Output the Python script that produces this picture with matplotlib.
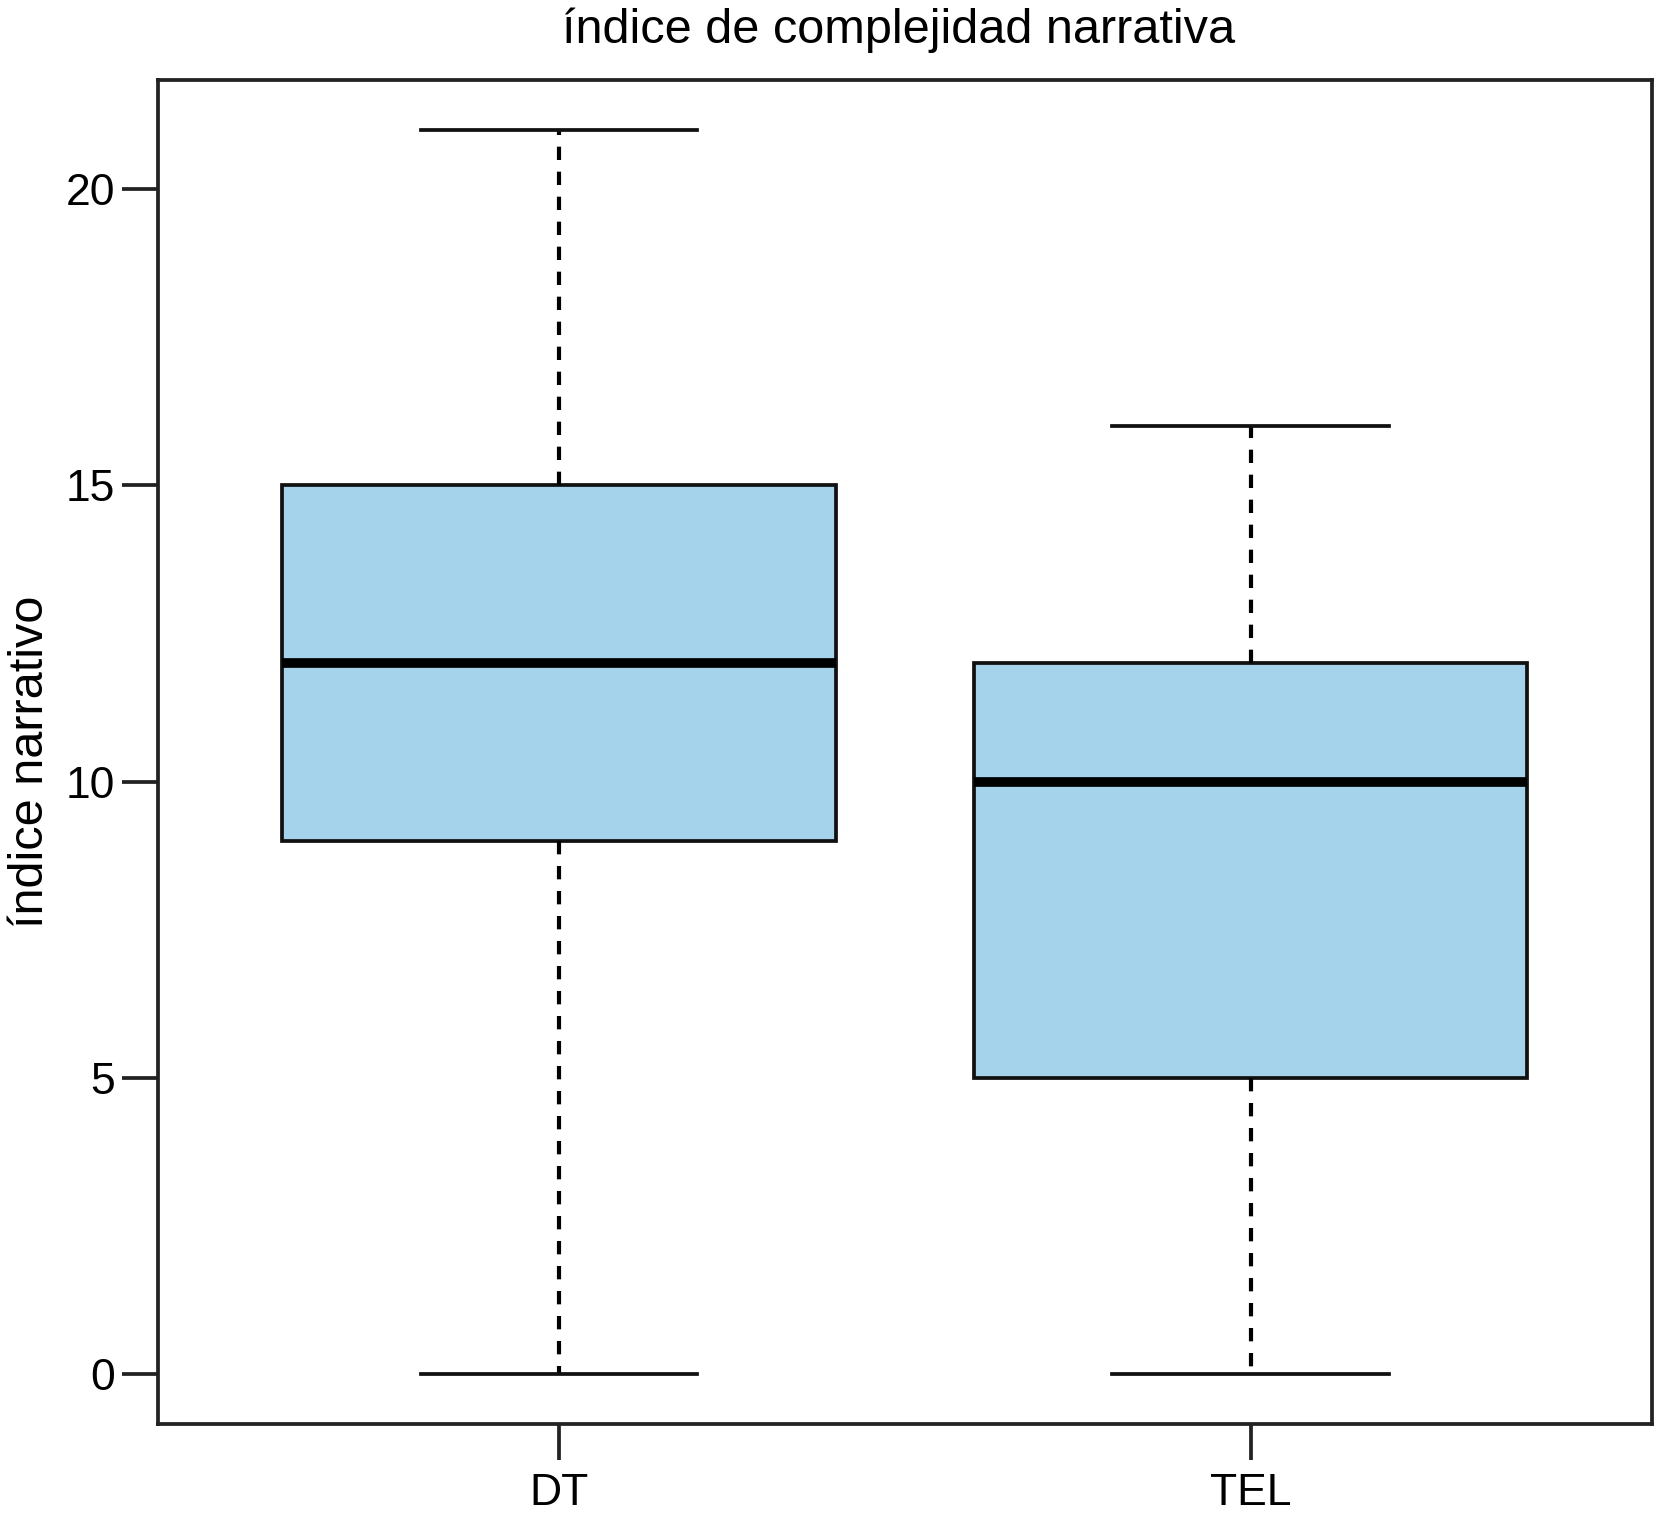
import matplotlib
matplotlib.use('Agg')
from matplotlib import pyplot as plt

# Datos
grupos = ['DT', 'TEL']
minimos = [0, 0]
q1 = [9, 5]
medianas = [12, 10]
q3 = [15, 12]
maximos = [21, 16]

plt.rcParams['font.family'] = ['Liberation Sans', 'DejaVu Sans']

fig = plt.figure(figsize=(16.56, 15.13), dpi=100)
ax = fig.add_axes([158 / 1656, 89 / 1513, 1494 / 1656, 1344 / 1513])

stats = []
for i in range(len(grupos)):
    stats.append({'label': grupos[i], 'whislo': minimos[i], 'q1': q1[i],
                  'med': medianas[i], 'q3': q3[i], 'whishi': maximos[i]})

ax.bxp(stats, positions=[1, 2], widths=0.8, capwidths=0.4,
       showfliers=False, patch_artist=True,
       boxprops=dict(facecolor='#a6d3ec', edgecolor='#111111', linewidth=2.7),
       medianprops=dict(color='black', linewidth=7, solid_capstyle='butt'),
       whiskerprops=dict(color='black', linewidth=3, linestyle=(0, (3.2, 2.8))),
       capprops=dict(color='#111111', linewidth=2.7))

ax.set_xlim(0.42, 2.58)
ax.set_ylim(-0.84, 21.84)
ax.set_yticks([0, 5, 10, 15, 20])
ax.set_xticks([1, 2])
ax.set_xticklabels(grupos)

for s in ax.spines.values():
    s.set_linewidth(2.7)
    s.set_color('#222222')

ax.tick_params(axis='both', length=26, width=2.7, color='#222222', labelsize=32)
ax.tick_params(axis='y', pad=5)
ax.tick_params(axis='x', pad=9)

# etiqueta del eje y y titulo
fig.text(31 / 1656, 1 - 762 / 1513, 'índice narrativo',
         fontsize=35, rotation=90, ha='center', va='center')
fig.text(0.5425, 1 - 30 / 1513, 'índice de complejidad narrativa',
         fontsize=35, ha='center', va='center')

fig.savefig('out.png', dpi=100)
